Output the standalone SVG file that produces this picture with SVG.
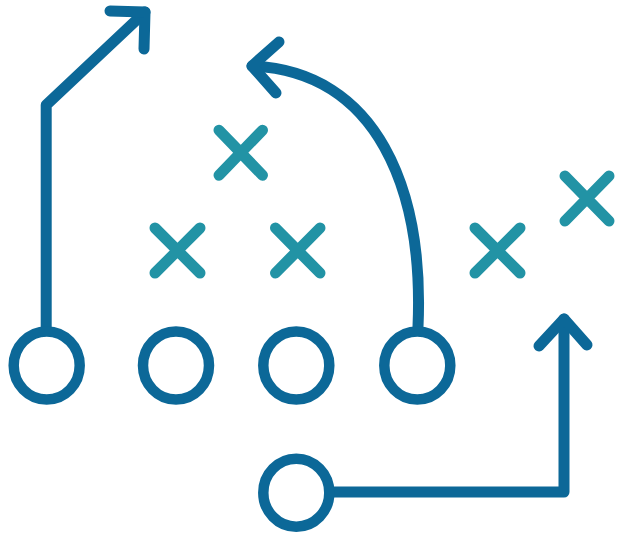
<svg xmlns="http://www.w3.org/2000/svg" width="618" height="533" viewBox="0 0 618 533">
<style>
.o{fill:none;stroke:#0c6898;stroke-width:11;stroke-linecap:round;stroke-linejoin:round}
.c{fill:none;stroke:#0c6898;stroke-width:10.500}
.x{fill:none;stroke:#2293a5;stroke-width:11;stroke-linecap:round}
</style>
<g id="connectors">
<path class="o" d="M46.200 327V105L145 12"/>
<path class="o" d="M110 11L145 12L144 49"/>
<path class="o" d="M418 327C424 190 378 72 252 66"/>
<path class="o" d="M279 42L252 66L276 93"/>
<path class="o" d="M332 492H564V319"/>
<path class="o" d="M539 346L564 319L587 345"/>
</g>
<g id="player1"><ellipse class="c" cx="46.700" cy="365.500" rx="33" ry="34"/></g>
<g id="player2"><ellipse class="c" cx="176" cy="365.500" rx="33" ry="34"/></g>
<g id="player3"><ellipse class="c" cx="296.300" cy="365.500" rx="33" ry="34"/></g>
<g id="player4"><ellipse class="c" cx="417.300" cy="365.500" rx="33" ry="34"/></g>
<g id="player5"><ellipse class="c" cx="296.300" cy="492.700" rx="33" ry="34"/></g>
<g id="x1"><path class="x" d="M219 130.200L262.500 175.200M262.500 130.200L219 175.200"/></g>
<g id="x2"><path class="x" d="M155 228L200 273M200 228L155 273"/></g>
<g id="x3"><path class="x" d="M275.500 228L320 273M320 228L275.500 273"/></g>
<g id="x4"><path class="x" d="M475 228L520 273M520 228L475 273"/></g>
<g id="x5"><path class="x" d="M565 176L609 221M609 176L565 221"/></g>
</svg>
